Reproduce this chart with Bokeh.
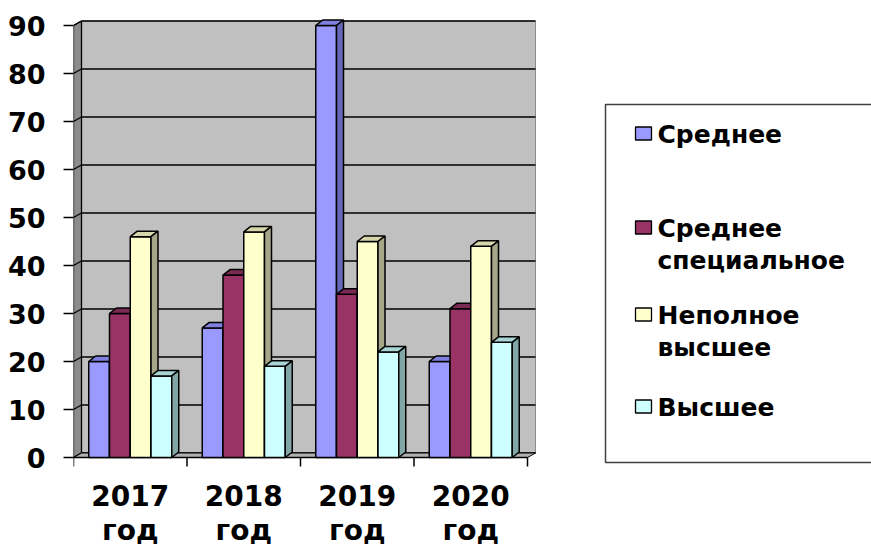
from bokeh.plotting import figure
from bokeh.models import Range1d, FixedTicker
from bokeh.core.properties import value
from bokeh.embed import file_html
from bokeh.resources import INLINE

# ---- data -------------------------------------------------------------
years = ["2017", "2018", "2019", "2020"]
year_word = "год"
series_names = ["Среднее", "Среднее специальное", "Неполное высшее", "Высшее"]
legend_lines = [["Среднее"], ["Среднее", "специальное"], ["Неполное", "высшее"], ["Высшее"]]
srednee = [20, 27, 90, 20]
srednee_spec = [30, 38, 34, 31]
nepolnoe_vysshee = [46, 47, 45, 44]
vysshee = [17, 19, 22, 24]
y_ticks = [0, 10, 20, 30, 40, 50, 60, 70, 80, 90]

series_values = [srednee, srednee_spec, nepolnoe_vysshee, vysshee]

# ---- colours ----------------------------------------------------------
front_colors = ["#9999ff", "#993366", "#ffffcc", "#ccffff"]
top_colors = ["#8080e0", "#7a2952", "#d6d6ab", "#a8d6d6"]
side_colors = ["#6666b8", "#66223f", "#a6a688", "#80a6a6"]

# ---- page geometry (pixels) -------------------------------------------
W, H = 871, 547
LEFT = 73            # frame starts at the value axis
PX_PER_CAT = 113.5   # width of one year slot
PX_PER_UNIT = 4.8    # pixels per value unit
ZERO_Y = 457         # page y of the zero line

def du(px):
    return px / PX_PER_CAT

def dv(px):
    return px / PX_PER_UNIT

def ux(px):
    return (px - LEFT) / PX_PER_CAT

def vy(py):
    return (ZERO_Y - py) / PX_PER_UNIT

n = len(years)
top_val = max(y_ticks)

p = figure(
    width=W, height=H,
    x_range=Range1d(0, (W - LEFT) / PX_PER_CAT),
    y_range=Range1d(-(H - ZERO_Y) / PX_PER_UNIT, ZERO_Y / PX_PER_UNIT),
    x_axis_location=None, y_axis_location="left",
    min_border_left=LEFT, min_border_right=0, min_border_top=0, min_border_bottom=0,
    output_backend="svg", toolbar_location=None,
)
p.outline_line_color = None
p.background_fill_color = "white"
p.border_fill_color = "white"
p.xgrid.visible = False
p.ygrid.visible = False

ax = p.yaxis[0]
ax.ticker = FixedTicker(ticks=y_ticks)
ax.axis_line_color = None
ax.major_tick_line_color = "black"
ax.major_tick_line_width = 1.5
ax.major_tick_out = 10
ax.major_tick_in = 0
ax.minor_tick_out = 0
ax.minor_tick_in = 0
ax.major_label_standoff = 18
ax.major_label_text_font = "DejaVu Sans"
ax.major_label_text_font_style = "bold"
ax.major_label_text_font_size = "27px"
ax.major_label_text_color = "black"

# ---- 3-D walls and floor ----------------------------------------------
WALL_DX = du(8)
WALL_DY = dv(4.5)

# back wall
p.quad(left=WALL_DX, right=n + WALL_DX, bottom=WALL_DY, top=top_val + WALL_DY,
       fill_color="#c0c0c0", line_color="#8a8a8a", line_width=1)
# side wall
p.patch(x=[0, WALL_DX, WALL_DX, 0], y=[0, WALL_DY, top_val + WALL_DY, top_val],
        fill_color="#8c8c8c", line_color="black", line_width=1.3)
# gridlines on the back wall
p.segment(x0=[WALL_DX] * len(y_ticks), y0=[t + WALL_DY for t in y_ticks],
          x1=[n + WALL_DX] * len(y_ticks), y1=[t + WALL_DY for t in y_ticks],
          line_color="black", line_width=1.6)
# gridlines on the side wall
p.segment(x0=[0] * len(y_ticks), y0=y_ticks,
          x1=[WALL_DX] * len(y_ticks), y1=[t + WALL_DY for t in y_ticks],
          line_color="black", line_width=1.3)
# floor
p.patch(x=[0, n, n + WALL_DX, WALL_DX], y=[0, 0, WALL_DY, WALL_DY],
        fill_color="#b0b0b0", line_color="black", line_width=1)
# front edge of the floor and category ticks
p.segment(x0=[0], y0=[0], x1=[n], y1=[0], line_color="black", line_width=1.6)
p.segment(x0=list(range(n + 1)), y0=[0] * (n + 1),
          x1=list(range(n + 1)), y1=[-dv(9)] * (n + 1),
          line_color="black", line_width=1.5)

# ---- 3-D bars -----------------------------------------------------------
BAR_W = du(20.75)
BAR_DX = du(7)
BAR_DY = dv(5.5)
start = 0.5 - len(series_values) * BAR_W / 2

for s, vals in enumerate(series_values):
    lefts = [i + start + s * BAR_W for i in range(n)]
    rights = [l + BAR_W for l in lefts]
    p.quad(left=lefts, right=rights, bottom=[0] * n, top=vals,
           fill_color=front_colors[s], line_color="black", line_width=1.5)
    p.patches(xs=[[l, r, r + BAR_DX, l + BAR_DX] for l, r in zip(lefts, rights)],
              ys=[[v, v, v + BAR_DY, v + BAR_DY] for v in vals],
              fill_color=top_colors[s], line_color="black", line_width=1.5)
    p.patches(xs=[[r, r + BAR_DX, r + BAR_DX, r] for r in rights],
              ys=[[0, BAR_DY, v + BAR_DY, v] for v in vals],
              fill_color=side_colors[s], line_color="black", line_width=1.5)

# ---- category labels ----------------------------------------------------
centers = [i + 0.5 for i in range(n)]
label_style = dict(text_font=value("DejaVu Sans"), text_font_style="bold",
                   text_font_size="28px", text_color="black",
                   text_align="center", text_baseline="middle")
p.text(x=centers, y=[vy(495)] * n, text=years, **label_style)
p.text(x=centers, y=[vy(530)] * n, text=[year_word] * n, **label_style)

# ---- legend -------------------------------------------------------------
p.quad(left=ux(605), right=ux(900), bottom=vy(462), top=vy(104),
       fill_color="white", line_color="#404040", line_width=1.5)
first_centers = [134, 228, 315, 407]
LINE_STEP = 32
p.rect(x=[ux(643)] * len(series_names), y=[vy(c - 1) for c in first_centers],
       width=16, height=13, width_units="screen", height_units="screen",
       fill_color=front_colors, line_color="black", line_width=1.3)
lx, ly, lt = [], [], []
for c, lines in zip(first_centers, legend_lines):
    for k, line in enumerate(lines):
        lx.append(ux(657))
        ly.append(vy(c + k * LINE_STEP))
        lt.append(line)
p.text(x=lx, y=ly, text=lt, text_font=value("DejaVu Sans"), text_font_style="bold",
       text_font_size="25px", text_color="black", text_align="left",
       text_baseline="middle")

open("out.html", "w").write(file_html(p, INLINE))
